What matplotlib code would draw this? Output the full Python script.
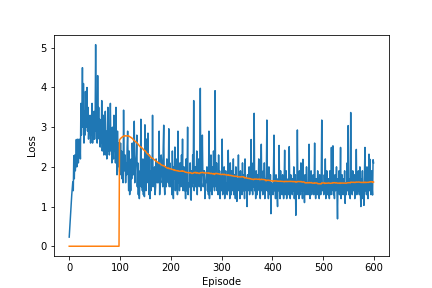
import numpy as np
import matplotlib
matplotlib.use("Agg")
import matplotlib.pyplot as plt

# Per-episode loss values (episodes 0..599)
losses = [
    0.23, 0.45, 0.68, 0.9, 1.1, 1.3, 1.45, 1.62, 1.4, 2.28,
    1.7, 2.3, 1.9, 2.1, 2.69, 2.0, 2.2, 2.7, 2.1, 2.6,
    2.4, 2.7, 2.2, 3.6, 2.8, 3.3, 4.5, 3.0, 4.1, 2.6,
    3.4, 2.8, 3.9, 3.0, 3.2, 4.0, 2.9, 3.5, 2.7, 3.1,
    2.9, 3.3, 2.6, 3.0, 2.8, 3.6, 2.6, 3.2, 2.7, 3.4,
    2.7, 3.1, 5.08, 2.9, 3.6, 2.6, 4.3, 2.8, 3.5, 2.7,
    3.2, 2.5, 2.9, 2.6, 3.67, 2.4, 2.9, 3.3, 2.3, 2.8,
    2.6, 3.4, 2.3, 2.9, 2.2, 2.7, 3.5, 2.4, 2.8, 2.3,
    2.9, 3.6, 2.4, 2.7, 2.1, 3.0, 2.5, 2.2, 3.3, 2.4,
    2.8, 2.1, 3.5, 2.4, 1.8, 2.9, 2.0, 2.6, 2.3, 1.9,
    # 100-199
    1.8, 2.6, 1.9, 2.4, 1.7, 2.2, 1.6, 3.43, 2.0, 1.9,
    2.3, 1.6, 2.1, 1.8, 2.5, 2.9, 2.0, 1.4, 2.4, 1.3,
    1.9, 1.4, 2.2, 1.7, 2.6, 2.2, 1.8, 2.0, 3.15, 1.6,
    1.9, 2.1, 2.3, 2.8, 1.5, 2.1, 1.3, 1.9, 1.2, 1.6,
    1.7, 3.2, 1.5, 1.9, 1.4, 2.2, 1.3, 1.8, 1.25, 3.06,
    1.7, 1.4, 2.7, 1.6, 2.0, 2.85, 1.8, 1.3, 2.3, 1.2,
    1.9, 1.4, 2.2, 1.6, 3.3, 1.5, 1.6, 1.8, 2.0, 1.3,
    1.5, 2.2, 1.7, 1.6, 2.1, 1.6, 1.9, 2.9, 1.3, 1.7,
    1.6, 2.3, 2.1, 1.8, 1.5, 2.5, 3.05, 1.6, 1.3, 2.0,
    1.7, 1.5, 2.2, 2.1, 1.8, 1.6, 2.96, 1.5, 2.1, 1.7,
    # 200-299
    1.5, 1.9, 1.3, 2.4, 1.6, 1.2, 2.0, 1.7, 2.5, 1.4,
    1.8, 1.5, 2.2, 1.3, 2.9, 1.6, 1.9, 1.4, 2.1, 1.7,
    1.5, 2.3, 1.6, 2.7, 1.4, 1.8, 2.0, 1.4, 1.7, 1.2,
    2.2, 1.4, 1.8, 3.0, 1.3, 1.6, 1.5, 1.5, 2.1, 1.2,
    1.16, 1.9, 1.5, 2.3, 1.6, 3.67, 1.4, 1.8, 2.0, 1.5,
    1.7, 2.4, 1.3, 1.9, 1.6, 2.2, 1.5, 1.8, 3.98, 1.4,
    1.6, 1.5, 2.8, 1.8, 1.9, 1.5, 1.9, 1.2, 1.6, 1.6,
    1.8, 2.0, 1.4, 1.7, 1.3, 2.9, 1.2, 1.7, 1.4, 2.3,
    1.6, 1.3, 2.0, 1.5, 2.4, 1.7, 1.4, 3.92, 1.8, 1.5,
    2.1, 1.4, 1.7, 1.3, 2.3, 1.6, 1.9, 1.2, 1.8, 1.5,
    # 300-399
    1.4, 2.7, 1.3, 1.7, 1.5, 2.0, 1.2, 1.6, 1.9, 1.4,
    1.6, 1.3, 1.8, 2.42, 1.4, 1.7, 1.2, 2.1, 1.5, 1.3,
    1.9, 1.4, 1.6, 2.2, 1.3, 1.5, 1.8, 1.2, 2.0, 1.4,
    1.13, 1.7, 1.5, 2.3, 1.4, 1.6, 1.2, 1.9, 1.5, 1.7,
    1.3, 2.1, 1.5, 1.4, 1.8, 1.2, 2.2, 1.6, 1.4, 1.7,
    1.0, 1.8, 1.4, 1.6, 2.0, 1.3, 1.5, 1.9, 2.69, 1.4,
    1.6, 1.3, 2.1, 1.5, 3.35, 1.4, 1.7, 1.2, 1.9, 1.5,
    1.3, 1.8, 1.5, 2.2, 1.4, 1.6, 1.2, 1.7, 2.57, 1.4,
    1.6, 1.3, 1.9, 1.5, 2.1, 1.2, 1.7, 1.4, 1.8, 3.18,
    1.4, 1.7, 1.2, 2.0, 1.5, 1.3, 1.8, 0.82, 1.6, 1.4,
    # 400-499
    1.5, 1.3, 1.9, 2.8, 1.4, 1.6, 1.2, 1.8, 1.5, 1.3,
    1.0, 1.7, 1.4, 2.54, 1.5, 1.2, 1.9, 1.4, 1.6, 1.3,
    1.8, 1.4, 1.2, 1.6, 2.42, 1.3, 1.5, 1.9, 1.2, 1.6,
    1.4, 1.7, 1.3, 2.51, 1.5, 1.2, 1.8, 1.4, 1.6, 1.3,
    1.7, 1.4, 2.0, 1.2, 1.5, 1.8, 0.78, 1.6, 1.3, 2.93,
    1.4, 1.6, 1.2, 1.9, 1.5, 1.3, 2.1, 1.4, 1.7, 1.2,
    2.19, 1.4, 1.6, 1.1, 1.8, 1.5, 1.3, 2.0, 1.4, 1.6,
    1.3, 1.7, 2.57, 1.4, 1.2, 1.6, 1.9, 1.3, 1.5, 1.4,
    1.8, 1.3, 1.5, 2.6, 1.4, 1.2, 1.7, 1.5, 1.3, 1.9,
    1.4, 1.6, 1.2, 1.8, 1.5, 1.3, 1.7, 3.18, 1.4, 1.6,
    # 500-599
    1.5, 1.3, 1.8, 1.4, 2.2, 1.2, 1.6, 1.9, 1.4, 1.3,
    1.7, 1.4, 1.2, 1.9, 1.5, 1.3, 2.49, 1.4, 1.6, 2.53,
    1.3, 1.6, 1.2, 1.8, 1.4, 1.5, 2.0, 1.3, 0.69, 1.7,
    1.4, 1.9, 1.3, 1.6, 2.49, 1.2, 1.5, 1.8, 1.4, 1.3,
    1.7, 1.4, 1.9, 1.08, 1.6, 1.3, 1.5, 2.1, 1.4, 3.04,
    1.3, 1.7, 1.5, 1.2, 3.37, 1.4, 1.6, 1.3, 1.9, 1.5,
    1.4, 1.8, 1.2, 1.6, 1.5, 2.44, 1.3, 1.7, 1.4, 1.9,
    1.5, 1.3, 2.0, 1.4, 1.0, 1.7, 1.5, 1.9, 1.2, 1.6,
    1.03, 1.8, 2.49, 1.4, 1.6, 1.3, 2.0, 1.5, 1.2, 1.7,
    2.32, 1.4, 2.19, 1.6, 1.3, 1.9, 1.5, 1.29, 2.18, 2.1,
]

window = 100
loss_arr = np.array(losses)
avg_losses = [0.0 if i < window - 1 else float(np.mean(loss_arr[i - window + 1:i + 1]))
              for i in range(len(losses))]

fig, ax = plt.subplots(figsize=(6, 4), dpi=72)
ax.plot(losses)
ax.plot(avg_losses)
ax.set_xlabel("Episode")
ax.set_ylabel("Loss")
fig.savefig("out.png", dpi=72)
